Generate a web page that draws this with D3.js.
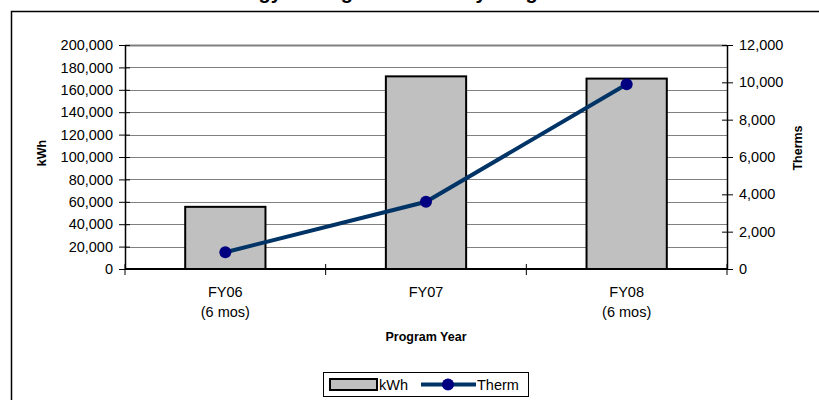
<!DOCTYPE html>
<!-- kWh bars with therm line on a second axis, by program year -->
<html>
<head>
<meta charset="utf-8">
<style>
  body { margin: 0; background: #fff; }
  svg { display: block; font-family: "Liberation Sans", Arial, sans-serif; }
</style>
</head>
<body>
<div id="graph_div"></div>

<script src="https://d3js.org/d3.v7.min.js"></script>

<script>

// data
let years = ["FY06", "FY07", "FY08"];
let year_notes = ["(6 mos)", "", "(6 mos)"];
let kwh_values = [55500, 172000, 170000];
let therm_values = [900, 3600, 9900];
let kwh_ticks = [0, 20000, 40000, 60000, 80000, 100000, 120000, 140000, 160000, 180000, 200000];
let therm_ticks = [0, 2000, 4000, 6000, 8000, 10000, 12000];

let container_width = 819,
    container_height = 400,
    margin = {top: 45, right: 92, bottom: 131, left: 125},
    graph_width = container_width - margin.left - margin.right,
    graph_height = container_height - margin.top - margin.bottom;

let tick_font = 14.5;

let graph_obj = d3.select("#graph_div")
  .append("svg")
    .attr("width", container_width)
    .attr("height", container_height);

// chart frame (runs off the right and bottom)
graph_obj.append("rect")
    .attr("x", 11.5)
    .attr("y", 11.5)
    .attr("width", 900)
    .attr("height", 500)
    .attr("fill", "#fff")
    .attr("stroke", "#000")
    .attr("stroke-width", 1.5);

// title, cut off by the top edge as in the original
graph_obj.append("text")
    .attr("x", 214)
    .attr("y", -1)
    .attr("font-size", 20)
    .attr("font-weight", "bold")
    .text("Energy Savings Achieved by Program Year");

let graph_elems = graph_obj.append("g")
    .attr("transform", "translate(" + margin.left + "," + margin.top + ")");

let x = d3.scaleBand()
    .domain(years)
    .range([0, graph_width])
    .paddingInner(0.6)
    .paddingOuter(0.3);

let y_kwh = d3.scaleLinear()
    .domain([0, 200000])
    .range([graph_height, 0]);

let y_therm = d3.scaleLinear()
    .domain([0, 12000])
    .range([graph_height, 0]);

let fmt = d3.format(",");

// gridlines
graph_elems.append("g")
  .selectAll("line")
  .data(kwh_ticks.slice(1))
  .enter()
  .append("line")
    .attr("x1", 0)
    .attr("x2", graph_width)
    .attr("y1", d => Math.round(y_kwh(d)) + 0.5)
    .attr("y2", d => Math.round(y_kwh(d)) + 0.5)
    .attr("stroke", "#808080")
    .attr("stroke-width", d => d == 200000 ? 2 : 1);

// bars
graph_elems.append("g")
  .selectAll("rect")
  .data(years)
  .enter()
  .append("rect")
    .attr("x", d => x(d))
    .attr("y", (d, i) => y_kwh(kwh_values[i]))
    .attr("width", x.bandwidth())
    .attr("height", (d, i) => graph_height - y_kwh(kwh_values[i]))
    .attr("fill", "#c0c0c0")
    .attr("stroke", "#000")
    .attr("stroke-width", 2);

// left axis
let y_axis_left = graph_elems.append("g")
    .call(d3.axisLeft(y_kwh).tickValues(kwh_ticks).tickFormat(fmt).tickSizeInner(6).tickSizeOuter(0).tickPadding(6));
y_axis_left.selectAll(".tick line").attr("x1", 5).attr("stroke", "#000");
y_axis_left.select(".domain").attr("stroke", "#000").attr("stroke-width", 1.5);
y_axis_left.selectAll("text")
    .attr("font-family", "'Liberation Sans', Arial, sans-serif")
    .attr("font-size", tick_font)
    .attr("fill", "#000");

// right axis
let y_axis_right = graph_elems.append("g")
    .attr("transform", "translate(" + graph_width + ",0)")
    .call(d3.axisRight(y_therm).tickValues(therm_ticks).tickFormat(fmt).tickSizeInner(6).tickSizeOuter(0).tickPadding(6));
y_axis_right.selectAll(".tick line").attr("x1", -5).attr("stroke", "#000");
y_axis_right.select(".domain").attr("stroke", "#000").attr("stroke-width", 1.5);
y_axis_right.selectAll("text")
    .attr("font-family", "'Liberation Sans', Arial, sans-serif")
    .attr("font-size", tick_font)
    .attr("fill", "#000");

// bottom axis with ticks between categories
let x_axis = graph_elems.append("g")
    .attr("transform", "translate(0," + graph_height + ")");
x_axis.append("line")
    .attr("x1", 0)
    .attr("x2", graph_width)
    .attr("stroke", "#000")
    .attr("stroke-width", 2);
x_axis.selectAll("tick_marks")
  .data(d3.range(years.length + 1))
  .enter()
  .append("line")
    .attr("x1", i => x.step() * i)
    .attr("x2", i => x.step() * i)
    .attr("y1", -5)
    .attr("y2", 6)
    .attr("stroke", "#000");

let cat_labels = x_axis.selectAll("cat_labels")
  .data(years)
  .enter()
  .append("text")
    .attr("x", d => x(d) + x.bandwidth() / 2)
    .attr("y", 28)
    .attr("text-anchor", "middle")
    .attr("font-size", tick_font)
    .attr("fill", "#000");
cat_labels.append("tspan")
    .attr("x", d => x(d) + x.bandwidth() / 2)
    .text(d => d);
cat_labels.append("tspan")
    .attr("x", d => x(d) + x.bandwidth() / 2)
    .attr("dy", 20)
    .text((d, i) => year_notes[i]);

// therm line
let therm_line = d3.line()
    .x((d, i) => x(years[i]) + x.bandwidth() / 2)
    .y(d => y_therm(d));

graph_elems.append("path")
    .datum(therm_values)
    .attr("d", therm_line)
    .attr("fill", "none")
    .attr("stroke", "#003366")
    .attr("stroke-width", 4);

graph_elems.append("g")
  .selectAll("circle")
  .data(therm_values)
  .enter()
  .append("circle")
    .attr("cx", (d, i) => x(years[i]) + x.bandwidth() / 2)
    .attr("cy", d => y_therm(d))
    .attr("r", 6)
    .attr("fill", "#000080");

// axis titles
graph_obj.append("text")
    .attr("transform", "translate(46,153) rotate(-90)")
    .attr("text-anchor", "middle")
    .attr("font-size", 12.5)
    .attr("font-weight", "bold")
    .text("kWh");

graph_obj.append("text")
    .attr("transform", "translate(802,148) rotate(-90)")
    .attr("text-anchor", "middle")
    .attr("font-size", 12.5)
    .attr("font-weight", "bold")
    .text("Therms");

graph_obj.append("text")
    .attr("x", margin.left + graph_width / 2)
    .attr("y", 341)
    .attr("text-anchor", "middle")
    .attr("font-size", 12.5)
    .attr("font-weight", "bold")
    .text("Program Year");

// legend
let legend = graph_obj.append("g")
    .attr("transform", "translate(323,372)");
legend.append("rect")
    .attr("x", 0.5)
    .attr("y", 0.5)
    .attr("width", 205)
    .attr("height", 24)
    .attr("fill", "#fff")
    .attr("stroke", "#000");
legend.append("rect")
    .attr("x", 7)
    .attr("y", 7)
    .attr("width", 47)
    .attr("height", 11)
    .attr("fill", "#c0c0c0")
    .attr("stroke", "#000")
    .attr("stroke-width", 2);
legend.append("text")
    .attr("x", 56)
    .attr("y", 17.5)
    .attr("font-size", tick_font)
    .text("kWh");
legend.append("line")
    .attr("x1", 98)
    .attr("x2", 153)
    .attr("y1", 12.5)
    .attr("y2", 12.5)
    .attr("stroke", "#003366")
    .attr("stroke-width", 4);
legend.append("circle")
    .attr("cx", 125)
    .attr("cy", 12.5)
    .attr("r", 6)
    .attr("fill", "#000080");
legend.append("text")
    .attr("x", 154)
    .attr("y", 17.5)
    .attr("font-size", tick_font)
    .text("Therm");

</script>
</body>
</html>
